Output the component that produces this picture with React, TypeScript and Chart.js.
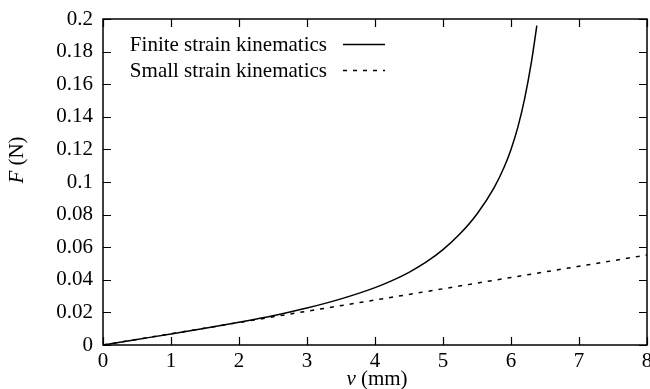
import React, { useEffect, useRef } from "react";
import { Chart, registerables } from "chart.js";

Chart.register(...registerables);

const finiteV = [0, 0.5, 1, 1.5, 2, 2.5, 3, 3.5, 4, 4.25, 4.5, 4.75, 5, 5.25, 5.5, 5.75, 5.9, 6.0, 6.1, 6.2, 6.3, 6.38];
const finiteF = [0, 0.0034, 0.0068, 0.0103, 0.014, 0.018, 0.0227, 0.0283, 0.0352, 0.0395, 0.0446, 0.0508, 0.0585, 0.0682, 0.0804, 0.0964, 0.1092, 0.12, 0.1335, 0.151, 0.1735, 0.1959];
const smallV = [0, 1, 2, 3, 4, 5, 6, 7, 8];
const smallF = [0, 0.0069, 0.0138, 0.0207, 0.0276, 0.0345, 0.0414, 0.0483, 0.0552];
const xTicks = [0, 1, 2, 3, 4, 5, 6, 7, 8];
const yTicks = [0, 0.02, 0.04, 0.06, 0.08, 0.1, 0.12, 0.14, 0.16, 0.18, 0.2];
const seriesLabels = ["Finite strain kinematics", "Small strain kinematics"];

const SERIF = "'Liberation Serif', 'Times New Roman', serif";
const FS = 21;

const framePlugin = {
  id: "gnuplotFrame",
  afterDraw(chart: any) {
    const ctx = chart.ctx;
    const { left, right, top, bottom } = chart.chartArea;
    const xs = chart.scales.x;
    const ys = chart.scales.y;
    ctx.save();
    ctx.strokeStyle = "#000";
    ctx.lineWidth = 1.5;
    ctx.setLineDash([]);
    ctx.strokeRect(left, top, right - left, bottom - top);
    const tl = 8;
    ctx.lineWidth = 1.2;
    ctx.beginPath();
    xTicks.forEach((t) => {
      const px = Math.round(xs.getPixelForValue(t)) + 0.5;
      ctx.moveTo(px, bottom);
      ctx.lineTo(px, bottom - tl);
      ctx.moveTo(px, top);
      ctx.lineTo(px, top + tl);
    });
    yTicks.forEach((t) => {
      const py = Math.round(ys.getPixelForValue(t)) + 0.5;
      ctx.moveTo(left, py);
      ctx.lineTo(left + tl, py);
      ctx.moveTo(right, py);
      ctx.lineTo(right - tl, py);
    });
    ctx.stroke();

    // legend
    ctx.fillStyle = "#000";
    ctx.font = `${FS}px ${SERIF}`;
    ctx.textAlign = "right";
    ctx.textBaseline = "middle";
    const rows = [45, 71];
    chart.data.datasets.forEach((ds: any, i: number) => {
      const y = rows[i];
      ctx.fillText(ds.label, 327, y);
      ctx.beginPath();
      ctx.lineWidth = 1.5;
      ctx.setLineDash(ds.borderDash || []);
      ctx.moveTo(343, y - 0.5);
      ctx.lineTo(385, y - 0.5);
      ctx.stroke();
    });
    ctx.setLineDash([]);

    const drawMixed = (cx: number, cy: number, ital: string, rest: string) => {
      ctx.font = `italic ${FS}px ${SERIF}`;
      const w1 = ctx.measureText(ital).width;
      ctx.font = `${FS}px ${SERIF}`;
      const w2 = ctx.measureText(rest).width;
      const start = cx - (w1 + w2) / 2;
      ctx.textAlign = "left";
      ctx.textBaseline = "middle";
      ctx.font = `italic ${FS}px ${SERIF}`;
      ctx.fillText(ital, start, cy);
      ctx.font = `${FS}px ${SERIF}`;
      ctx.fillText(rest, start + w1, cy);
    };
    drawMixed(377, 379, "v", " (mm)");
    ctx.save();
    ctx.translate(17, 160);
    ctx.rotate(-Math.PI / 2);
    drawMixed(0, 0, "F", " (N)");
    ctx.restore();
    ctx.restore();
  },
};

export default function App() {
  const ref = useRef<HTMLCanvasElement>(null);
  useEffect(() => {
    if (!ref.current) return;
    const chart = new Chart(ref.current, {
      type: "scatter",
      data: {
        datasets: [
          {
            label: seriesLabels[0],
            data: finiteV.map((v, i) => ({ x: v, y: finiteF[i] })),
            showLine: true,
            borderColor: "#000",
            borderWidth: 1.5,
            pointRadius: 0,
            cubicInterpolationMode: "monotone",
          },
          {
            label: seriesLabels[1],
            data: smallV.map((v, i) => ({ x: v, y: smallF[i] })),
            showLine: true,
            borderColor: "#000",
            borderWidth: 1.5,
            borderDash: [4, 6],
            pointRadius: 0,
          },
        ],
      },
      options: {
        responsive: false,
        animation: false,
        layout: { padding: { top: 19, right: 3, left: 0, bottom: 0 } },
        plugins: { legend: { display: false }, tooltip: { enabled: false } },
        scales: {
          x: {
            type: "linear",
            min: 0,
            max: 8,
            afterBuildTicks: (s: any) => {
              s.ticks = xTicks.map((v) => ({ value: v }));
            },
            afterFit: (s: any) => {
              s.height = 44;
            },
            ticks: {
              color: "#000",
              font: { family: SERIF, size: FS },
              padding: -4,
              maxRotation: 0,
              callback: (v: any) => String(v),
            },
            grid: { display: false },
            border: { display: false },
          },
          y: {
            type: "linear",
            min: 0,
            max: 0.2,
            afterBuildTicks: (s: any) => {
              s.ticks = yTicks.map((v) => ({ value: v }));
            },
            afterFit: (s: any) => {
              s.width = 103;
            },
            ticks: {
              color: "#000",
              font: { family: SERIF, size: FS },
              padding: 2,
              callback: (v: any) => String(parseFloat(Number(v).toFixed(2))),
            },
            grid: { display: false },
            border: { display: false },
          },
        },
      },
      plugins: [framePlugin],
    } as any);
    return () => chart.destroy();
  }, []);
  return (
    <div style={{ position: "absolute", left: 0, top: 0, width: 650, height: 389, background: "#fff" }}>
      <canvas ref={ref} width={650} height={389} />
    </div>
  );
}
